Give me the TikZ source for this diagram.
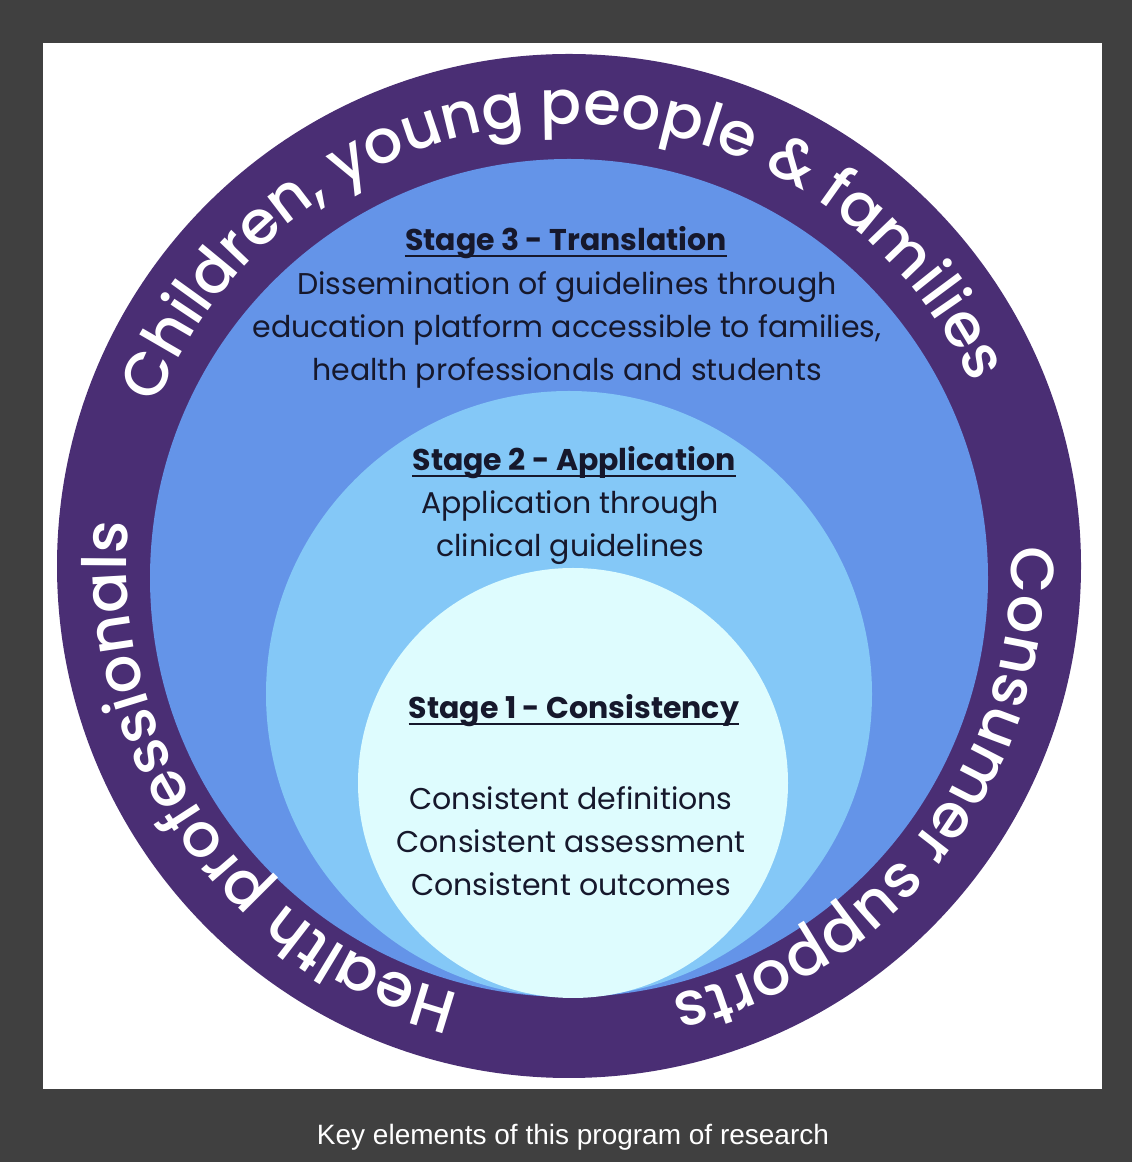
\documentclass[tikz,border=0pt]{standalone}
\usepackage{fontspec}
\setmainfont{Poppins}
\newfontfamily\capfont{Liberation Sans}
\newfontfamily\ringfam{Poppins Medium}
\usetikzlibrary{positioning,decorations.text}
\definecolor{myframe}{RGB}{64,64,64}
\definecolor{mypurple}{RGB}{74,46,116}
\definecolor{myblue}{RGB}{100,148,232}
\definecolor{mysky}{RGB}{132,200,247}
\definecolor{mypale}{RGB}{222,252,254}
\definecolor{myink}{RGB}{22,24,44}
\newcommand\ringfont{\ringfam\fontsize{61}{61}\selectfont}

\begin{document}
\begin{tikzpicture}[x=1pt,y=1pt,
  stagetitle/.style={font=\fontsize{30}{43}\selectfont\bfseries,text=myink,inner sep=0pt},
  stagetext/.style={font=\fontsize{30}{43}\selectfont,text=myink,align=center},
  underbar/.style={myink,line width=2pt},
  ringtext/.style={decorate,decoration={text along path,text align=center,
    text color=white,text={|\ringfont|#1}}}
]
% frame and page
\useasboundingbox (0,0) rectangle (1132,1162);
\fill[myframe] (0,0) rectangle (1132,1162);
\fill[white] (43,73) rectangle (1102,1119);

% the centres
\coordinate (c) at (569,596);
\coordinate (c3) at (569,584);
\coordinate (c2) at (569,468);
\coordinate (c1) at (573,379);

% the discs
\fill[mypurple] (c) circle[radius=512pt];
\fill[myblue] (c3) circle[radius=419pt];
\fill[mysky] (c2) circle[radius=303pt];
\fill[mypale] (c1) circle[radius=215pt];

% the ring texts
\path[ringtext={Children, young people {\&} families}]
  (c) ++(175:442pt) arc[start angle=175,end angle=8,radius=442pt];
\path[ringtext={Consumer supports}]
  (c) ++(8:442pt) arc[start angle=8,end angle=-82,radius=442pt];
\path[ringtext={Health professionals}]
  (c) ++(262:442pt) arc[start angle=262,end angle=168,radius=442pt];

% stage 3
\node[stagetitle] (t3) at (566,919) {Stage 3 - Translation\ };
\draw[underbar] ([yshift=-5pt]t3.base west) -- ([yshift=-5pt]t3.base east);
\node[stagetext] (s3) at (567,832) {Dissemination of guidelines through\\
  education platform accessible to families,\\health professionals and students};

% stage 2
\node[stagetitle] (t2) at (574,699) {Stage 2 - Application\ };
\draw[underbar] ([yshift=-5pt]t2.base west) -- ([yshift=-5pt]t2.base east);
\node[stagetext] (s2) at (570,634) {Application through\\clinical guidelines};

% stage 1
\node[stagetitle] (t1) at (574,451) {Stage 1 - Consistency};
\draw[underbar] ([yshift=-5pt]t1.base west) -- ([yshift=-5pt]t1.base east);
\node[stagetext] (s1) at (571,321) {Consistent definitions\\Consistent assessment\\Consistent outcomes};

% caption
\node[text=white,font=\capfont\fontsize{28}{30}\selectfont] (cap) at (573,25)
  {Key elements of this program of research};
\end{tikzpicture}
\end{document}
